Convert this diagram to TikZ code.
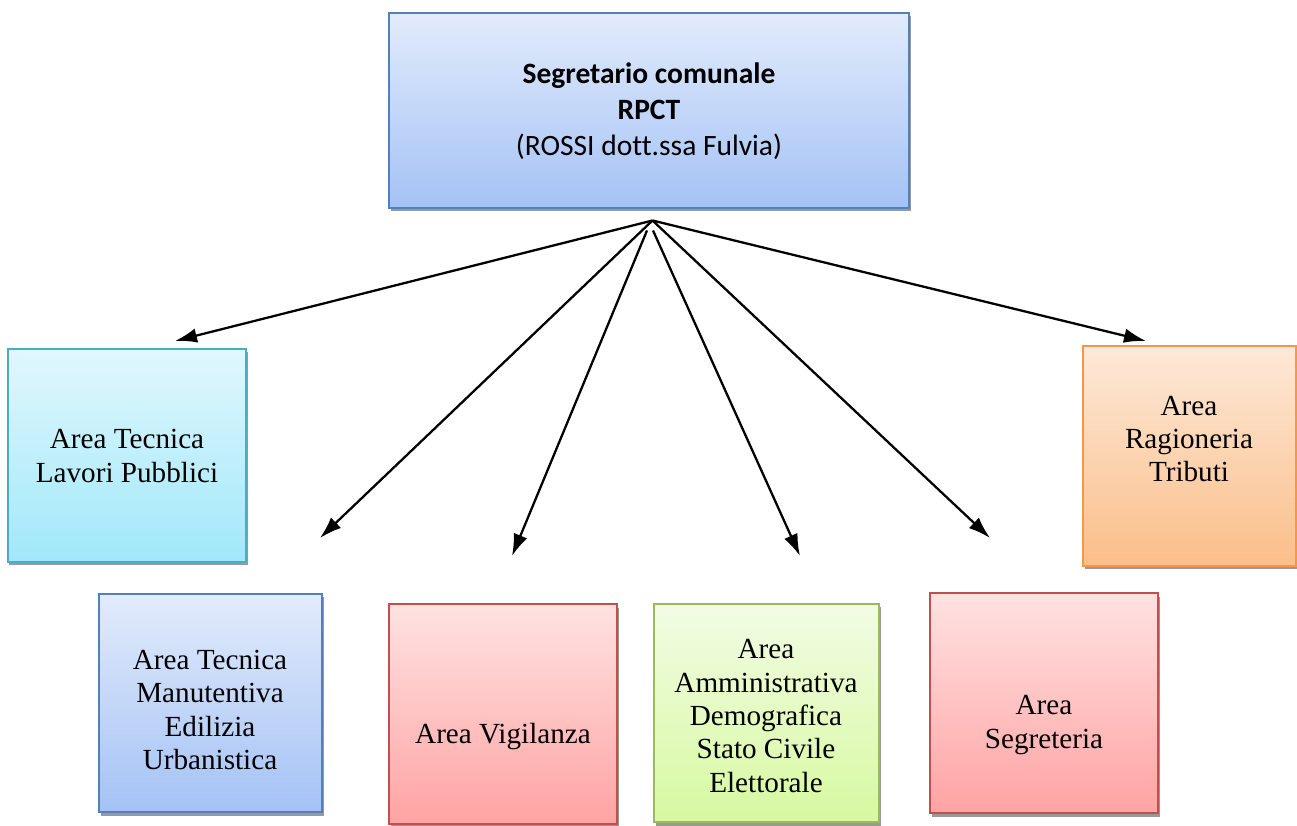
\documentclass[tikz,border=0pt]{standalone}
\usepackage{fontspec}
\setmainfont{Liberation Serif}
\newfontfamily\calibri[Ligatures=NoCommon]{Carlito}
\usetikzlibrary{arrows.meta,shadows}

\definecolor{blueT}{RGB}{226,235,252}
\definecolor{blueB}{RGB}{164,194,245}
\definecolor{blueD}{RGB}{79,129,189}
\definecolor{cyanT}{RGB}{225,247,253}
\definecolor{cyanB}{RGB}{160,232,250}
\definecolor{cyanD}{RGB}{75,172,198}
\definecolor{orT}{RGB}{253,233,216}
\definecolor{orB}{RGB}{251,190,137}
\definecolor{orD}{RGB}{247,150,70}
\definecolor{redT}{RGB}{255,226,226}
\definecolor{redB}{RGB}{255,163,163}
\definecolor{redD}{RGB}{192,80,77}
\definecolor{grT}{RGB}{242,252,228}
\definecolor{grB}{RGB}{215,249,160}
\definecolor{grD}{RGB}{155,187,89}

\begin{document}
\begin{tikzpicture}
\tikzstyle{box}=[rectangle,line width=1.1pt,inner sep=0pt,drop shadow={shadow xshift=0.03cm,shadow yshift=-0.07cm,fill=black!40,opacity=1}]
\tikzstyle{area}=[align=center,font=\fontsize{16.6}{19}\selectfont]
\tikzstyle{arrow}=[-{Latex[length=0.44cm,width=0.29cm]},line width=1.3pt]
\useasboundingbox (0,0) rectangle (25.94,-16.52);
% boxes
\node[box,draw=blueD,top color=blueT,bottom color=blueB,minimum width=10.4cm,minimum height=3.9cm] (0) at (12.98,-2.21) {};
\node[box,draw=cyanD,top color=cyanT,bottom color=cyanB,minimum width=4.76cm,minimum height=4.26cm] (1) at (2.54,-9.11) {};
\node[box,draw=blueD,top color=blueT,bottom color=blueB,minimum width=4.46cm,minimum height=4.36cm] (2) at (4.21,-14.06) {};
\node[box,draw=redD,top color=redT,bottom color=redB,minimum width=4.56cm,minimum height=4.4cm] (3) at (10.06,-14.28) {};
\node[box,draw=grD,top color=grT,bottom color=grB,minimum width=4.5cm,minimum height=4.36cm] (4) at (15.33,-14.26) {};
\node[box,draw=redD,top color=redT,bottom color=redB,minimum width=4.56cm,minimum height=4.4cm] (5) at (20.88,-14.06) {};
\node[box,draw=orD,top color=orT,bottom color=orB,minimum width=4.26cm,minimum height=4.4cm] (6) at (23.79,-9.12) {};
% texts
\node[align=center,font=\calibri\fontsize{16.8}{20.5}\selectfont] (t0) at (12.98,-2.22) {\textbf{Segretario comunale}\\\textbf{RPCT}\\(ROSSI dott.ssa Fulvia)};
\node[area] (t1) at (2.54,-9.12) {Area Tecnica\\Lavori Pubblici};
\node[area] (t2) at (4.20,-14.20) {Area Tecnica\\Manutentiva\\Edilizia\\Urbanistica};
\node[area] (t3) at (10.06,-14.74) {Area Vigilanza};
\node[area] (t4) at (15.32,-14.32) {Area\\Amministrativa\\Demografica\\Stato Civile\\Elettorale};
\node[area] (t5) at (20.88,-14.50) {Area\\Segreteria};
\node[area] (t6) at (23.78,-8.78) {Area\\Ragioneria\\Tributi};
% arrows
\coordinate (h) at (13.05,-4.41);
\coordinate (hl) at (12.94,-4.61);
\coordinate (hr) at (13.06,-4.61);
\coordinate (a1) at (3.50,-6.82);
\coordinate (a2) at (6.40,-10.76);
\coordinate (a3) at (10.24,-11.12);
\coordinate (a4) at (16.00,-11.12);
\coordinate (a5) at (19.80,-10.76);
\coordinate (a6) at (22.92,-6.82);
\draw[arrow] (h) -- (a1);
\draw[arrow] (h) -- (a2);
\draw[arrow] (hl) -- (a3);
\draw[arrow] (hr) -- (a4);
\draw[arrow] (h) -- (a5);
\draw[arrow] (h) -- (a6);
\end{tikzpicture}
\end{document}
